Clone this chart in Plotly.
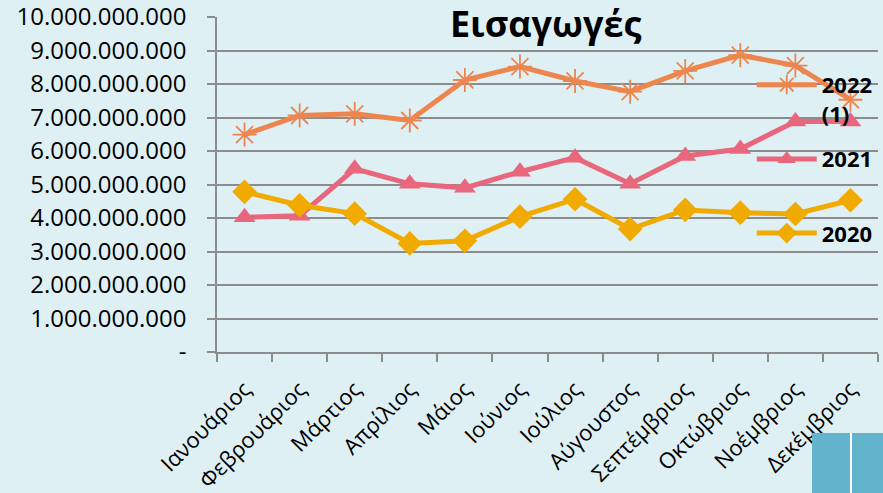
import plotly.graph_objects as go

months = ["Ιανουάριος", "Φεβρουάριος", "Μάρτιος", "Απρίλιος", "Μάιος", "Ιούνιος",
          "Ιούλιος", "Αύγουστος", "Σεπτέμβριος", "Οκτώβριος", "Νοέμβριος", "Δεκέμβριος"]

imports_2022 = [6.49e9, 7.06e9, 7.11e9, 6.91e9, 8.12e9, 8.52e9,
                8.09e9, 7.77e9, 8.39e9, 8.86e9, 8.55e9, 7.53e9]
imports_2021 = [4.02e9, 4.07e9, 5.47e9, 5.02e9, 4.90e9, 5.38e9,
                5.80e9, 5.02e9, 5.85e9, 6.06e9, 6.88e9, 6.88e9]
imports_2020 = [4.78e9, 4.38e9, 4.13e9, 3.24e9, 3.32e9, 4.04e9,
                4.56e9, 3.67e9, 4.24e9, 4.16e9, 4.12e9, 4.53e9]

y_tickvals = [0, 1e9, 2e9, 3e9, 4e9, 5e9, 6e9, 7e9, 8e9, 9e9, 10e9]
y_ticktext = ["-", "1.000.000.000", "2.000.000.000", "3.000.000.000", "4.000.000.000",
              "5.000.000.000", "6.000.000.000", "7.000.000.000", "8.000.000.000",
              "9.000.000.000", "10.000.000.000"]

FONT = "Open Sans"

fig = go.Figure()
fig.add_trace(go.Scatter(
    x=months, y=imports_2022, name="<b>2022</b><br><b>(1)</b>", legendgroup="a",
    mode="lines+markers",
    line=dict(color="#EC864E", width=5),
    marker=dict(symbol="asterisk-open", size=20, line=dict(color="#EC864E", width=1.8)),
))
fig.add_trace(go.Scatter(
    x=months, y=imports_2021, name="<b>2021</b><br>&nbsp;", legendgroup="b",
    mode="lines+markers",
    line=dict(color="#E8677D", width=5),
    marker=dict(symbol="triangle-up", size=19, color="#E8677D"),
))
fig.add_trace(go.Scatter(
    x=months, y=imports_2020, name="<b>2020</b><br>&nbsp;", legendgroup="c",
    mode="lines+markers",
    line=dict(color="#F0AA00", width=5),
    marker=dict(symbol="diamond", size=19, color="#F0AA00"),
))

fig.update_layout(
    width=883, height=493,
    margin=dict(l=217, r=5, t=17, b=141),
    paper_bgcolor="#DFF0F4",
    plot_bgcolor="#DFF0F4",
    font=dict(family=FONT, color="#000000"),
    title=dict(text="<b>Εισαγωγές</b>", x=0.618, xanchor="center", y=0.951, yanchor="middle",
               font=dict(family=FONT, size=36, color="#000000")),
    showlegend=True,
    legend=dict(
        x=0.809, y=0.86, xanchor="left", yanchor="top",
        bgcolor="rgba(0,0,0,0)", font=dict(family=FONT, size=22, color="#000000"),
        traceorder="grouped", tracegroupgap=14, itemwidth=60, valign="top",
    ),
    xaxis=dict(
        showgrid=False, showline=True, linecolor="#8C8C8C", linewidth=1.5,
        ticks="outside", tickson="boundaries", ticklen=8, tickcolor="#8C8C8C", tickwidth=1.5,
        tickangle=-45, tickfont=dict(family=FONT, size=22, color="#000000"),
        range=[-0.5, 11.5], automargin=False, ticklabelstandoff=14,
        ticklabeloverflow="allow",
    ),
    yaxis=dict(
        range=[0, 10e9], tickvals=y_tickvals, ticktext=y_ticktext,
        showgrid=True, gridcolor="#8C8C8C", gridwidth=1.5,
        showline=True, linecolor="#8C8C8C", linewidth=1.5,
        ticks="outside", ticklen=8, tickcolor="#8C8C8C", tickwidth=1.5,
        tickfont=dict(family=FONT, size=24, color="#000000"), zeroline=False,
        automargin=False, ticklabelstandoff=16, ticklabeloverflow="allow",
    ),
)

# decorative slide element at the bottom-right corner
fig.add_shape(type="rect", xref="paper", yref="paper",
              x0=(812 - 217) / 661, x1=(883 - 217) / 661,
              y0=-(493 - 352) / 335, y1=-(433 - 352) / 335,
              fillcolor="#62B4CC", line=dict(width=0), layer="above")
fig.add_shape(type="line", xref="paper", yref="paper",
              x0=(851 - 217) / 661, x1=(851 - 217) / 661,
              y0=-(493 - 352) / 335, y1=-(433 - 352) / 335,
              line=dict(color="#FFFFFF", width=2), layer="above")

fig.write_html("out.html", config={"displayModeBar": False},
               post_script="document.body.style.margin='0';document.body.style.overflow='hidden';")
